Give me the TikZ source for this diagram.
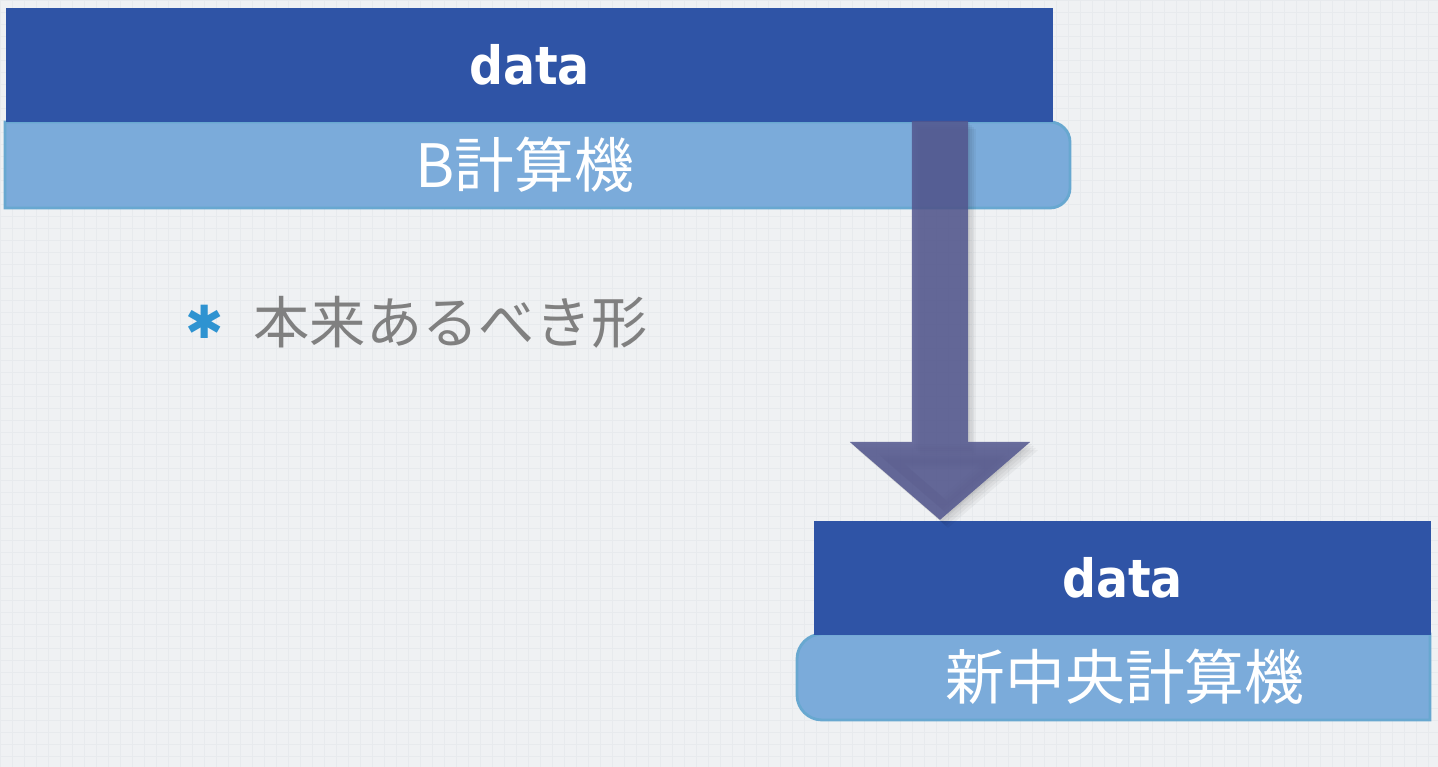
\documentclass[tikz,border=0pt]{standalone}
\usepackage{fontspec}
\newfontfamily\jpfont{Noto Sans CJK JP}
\newfontfamily\datafont{DejaVu Sans Condensed}
\newfontfamily\symfont{DejaVu Sans}
\usetikzlibrary{arrows.meta}
\usetikzlibrary{positioning}
\definecolor{paper}{RGB}{239,241,243}
\definecolor{gridc}{RGB}{231,234,237}
\definecolor{databg}{RGB}{47,84,166}
\definecolor{hostbg}{RGB}{123,171,218}
\definecolor{hostline}{RGB}{104,168,208}
\definecolor{arrowc}{RGB}{82,86,142}
\definecolor{bulletc}{RGB}{46,147,209}
\definecolor{notec}{RGB}{128,128,128}
\tikzstyle{databar} = [rectangle, inner sep=0pt, text centered, fill=databg, text=white, font=\datafont\bfseries\fontsize{15}{18}\selectfont, minimum height=11.4mm]
\tikzstyle{hostbar} = [draw=hostline, fill=hostbg, line width=0.8pt]
\tikzstyle{hosttext} = [inner sep=0pt, text=white, font=\jpfont\fontsize{17}{20}\selectfont]
\tikzstyle{arrow} = [line width=5.6mm, -{Triangle[width=17.6mm,length=7.8mm]}]

\begin{document}
\begin{tikzpicture}[x=0.01cm, y=-0.01cm]

\useasboundingbox (0,0) rectangle (1438,767);
\fill[paper] (0,0) rectangle (1438,767);
\foreach \x in {0,12,...,1438} \draw[gridc, line width=0.25pt] (\x,0) -- (\x,767);
\foreach \y in {0,12,...,767} \draw[gridc, line width=0.25pt] (0,\y) -- (1438,\y);

% old machine
\draw[hostbar] (5,122) [rounded corners=2mm] -- (1070,122) -- (1070,208) [sharp corners] -- (5,208) -- cycle;
\node (data0) [databar, anchor=north west, minimum width=104.7mm] at (5,7) {data};
\node (host0) [hosttext] at (525,165) {B計算機};

% new machine
\draw[hostbar] (1430,634) [rounded corners=2.5mm] -- (797,634) -- (797,720) [sharp corners] -- (1430,720) -- cycle;
\node (data1) [databar, anchor=north west, minimum width=61.7mm] at (813,520) {data};
\node (host1) [hosttext] at (1125,677) {新中央計算機};

% move
\coordinate (src) at (940,121);
\foreach \d in {2,4,6,8}
  \draw[arrow, draw=black, opacity=0.04] ([shift={(\d,\d)}]src) -- ([shift={(\d,\d)}]src |- data1.north);
\begin{scope}[transparency group, opacity=0.85]
\draw[arrow, draw=arrowc] (src) -- (src |- data1.north);
\end{scope}

\node (mark) [text=bulletc, font=\symfont\bfseries\fontsize{13}{15}\selectfont] at (205,322) {✱};
\node (note) [anchor=west, inner sep=0pt, text=notec, font=\jpfont\fontsize{16}{19}\selectfont] at (253,322) {本来あるべき形};

\end{tikzpicture}
\end{document}
